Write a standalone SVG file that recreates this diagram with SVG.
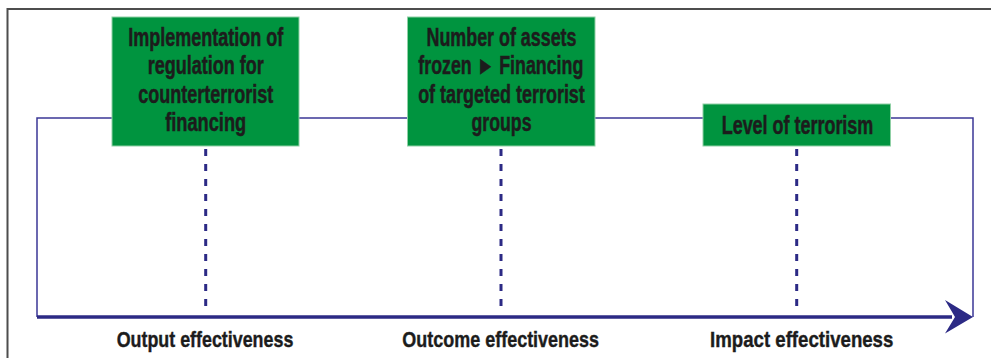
<svg xmlns="http://www.w3.org/2000/svg" width="991" height="358" viewBox="0 0 991 358">
  <style>
    .frame { fill: none; stroke: #4d4d4d; stroke-width: 2; }
    .rail { fill: none; stroke: #3b3796; stroke-width: 1.5; }
    .axis { fill: none; stroke: #2c2a85; stroke-width: 3.5; }
    .drop { fill: none; stroke: #2c2a85; stroke-width: 3; stroke-dasharray: 7 8; }
    .box { fill: #00943f; stroke: #8fd0a5; stroke-width: 1; }
    .lbl { font-family: "Liberation Sans", Arial, sans-serif; font-weight: bold; font-size: 25.5px; fill: #1c1c1c; stroke: #1c1c1c; stroke-width: 0.5; text-anchor: middle; }
    .axis-lbl { font-family: "Liberation Sans", Arial, sans-serif; font-weight: bold; font-size: 22px; fill: #1c1c1c; stroke: #1c1c1c; stroke-width: 0.4; text-anchor: middle; }
  </style>
  <rect width="991" height="358" fill="#ffffff"/>
  <rect class="frame" x="7.5" y="9" width="1000" height="400"/>

  <g id="connectors">
    <!-- outer rail running behind the boxes -->
    <polyline class="rail" points="37,317 37,118 973,118 973,317"/>
    <!-- dashed drops from each box to the axis -->
    <line class="drop" x1="205.7" y1="149" x2="205.7" y2="314"/>
    <line class="drop" x1="501" y1="149" x2="501" y2="314"/>
    <line class="drop" x1="796.7" y1="149" x2="796.7" y2="314"/>
    <!-- effectiveness axis -->
    <line class="axis" x1="37" y1="317" x2="952" y2="317"/>
    <polygon points="973,317 945,300 955,317 945,333.5" fill="#2c2a85"/>
  </g>

  <g id="node-output">
    <rect class="box" x="112" y="17" width="187" height="129"/>
    <text class="lbl" x="205.7" y="45.8" textLength="155" lengthAdjust="spacingAndGlyphs">Implementation of</text>
    <text class="lbl" x="205.7" y="74.3" textLength="116" lengthAdjust="spacingAndGlyphs">regulation for</text>
    <text class="lbl" x="205.7" y="102.8" textLength="135" lengthAdjust="spacingAndGlyphs">counterterrorist</text>
    <text class="lbl" x="205.7" y="131.3" textLength="81" lengthAdjust="spacingAndGlyphs">financing</text>
  </g>

  <g id="node-outcome">
    <rect class="box" x="407.5" y="17" width="187.5" height="129"/>
    <text class="lbl" x="501.5" y="45.8" textLength="150" lengthAdjust="spacingAndGlyphs">Number of assets</text>
    <text class="lbl" x="500.8" y="74.3" textLength="165" lengthAdjust="spacingAndGlyphs">frozen ► Financing</text>
    <text class="lbl" x="501.5" y="102.8" textLength="166.7" lengthAdjust="spacingAndGlyphs">of targeted terrorist</text>
    <text class="lbl" x="501.5" y="131.3" textLength="60" lengthAdjust="spacingAndGlyphs">groups</text>
  </g>

  <g id="node-impact">
    <rect class="box" x="703" y="104" width="187.5" height="42"/>
    <text class="lbl" x="797.5" y="133.5" textLength="151.6" lengthAdjust="spacingAndGlyphs">Level of terrorism</text>
  </g>

  <g id="axis-labels">
    <text class="axis-lbl" x="205" y="347" textLength="176.7" lengthAdjust="spacingAndGlyphs">Output effectiveness</text>
    <text class="axis-lbl" x="500.7" y="347" textLength="196.7" lengthAdjust="spacingAndGlyphs">Outcome effectiveness</text>
    <text class="axis-lbl" x="801.7" y="347" textLength="183.3" lengthAdjust="spacingAndGlyphs">Impact effectiveness</text>
  </g>
</svg>
